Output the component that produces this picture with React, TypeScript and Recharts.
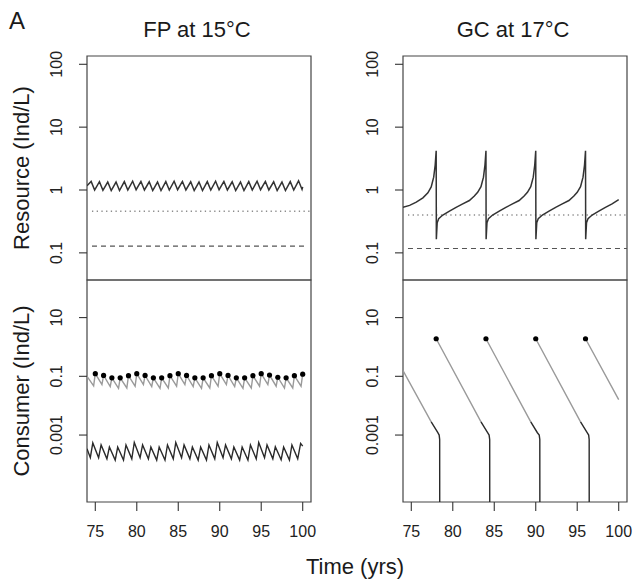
import React from 'react';
import { LineChart, Line, XAxis, YAxis, ReferenceArea } from 'recharts';

// ---------- axes ----------
const X_TICKS = [75, 80, 85, 90, 95, 100];
const X_DOMAIN = [74, 101];
const RES_TICKS = [0.1, 1, 10, 100];
const RES_DOMAIN = [0.037, 135.5];
const CON_TICKS = [0.001, 0.1, 10];
const CON_DOMAIN = [5.25e-6, 190.5];

// ---------- FP at 15°C : resource ----------
const FP_RES: number[][] = [
  [74.0, 1.17], [74.5, 1.37], [74.92, 1.0],
  [75.5, 1.36], [75.92, 0.99],
  [76.5, 1.34], [76.92, 0.98],
  [77.5, 1.34], [77.92, 0.98],
  [78.5, 1.36], [78.92, 1.0],
  [79.5, 1.38], [79.92, 1.01],
  [80.5, 1.37], [80.92, 1.0],
  [81.5, 1.35], [81.92, 0.98],
  [82.5, 1.34], [82.92, 0.98],
  [83.5, 1.36], [83.92, 1.0],
  [84.5, 1.38], [84.92, 1.01],
  [85.5, 1.37], [85.92, 1.0],
  [86.5, 1.35], [86.92, 0.98],
  [87.5, 1.34], [87.92, 0.98],
  [88.5, 1.36], [88.92, 1.0],
  [89.5, 1.38], [89.92, 1.01],
  [90.5, 1.37], [90.92, 1.0],
  [91.5, 1.35], [91.92, 0.98],
  [92.5, 1.34], [92.92, 0.98],
  [93.5, 1.36], [93.92, 1.0],
  [94.5, 1.38], [94.92, 1.01],
  [95.5, 1.37], [95.92, 1.0],
  [96.5, 1.35], [96.92, 0.98],
  [97.5, 1.34], [97.92, 0.98],
  [98.5, 1.36], [98.92, 1.0],
  [99.5, 1.40], [99.92, 1.02],
  [100.0, 1.12],
];
const FP_DOTTED: number[][] = [[74.6, 0.46], [101, 0.46]];
const FP_DASHED: number[][] = [[74.6, 0.128], [100.3, 0.128]];

// ---------- FP at 15°C : consumers ----------
const FP_JUV: number[][] = [
  [74.0, 0.100], [74.8, 0.047],
  [75.0, 0.123], [75.8, 0.052],
  [76.0, 0.107], [76.8, 0.045],
  [77.0, 0.089], [77.8, 0.039],
  [78.0, 0.089], [78.8, 0.040],
  [79.0, 0.105], [79.8, 0.046],
  [80.0, 0.123], [80.8, 0.052],
  [81.0, 0.107], [81.8, 0.045],
  [82.0, 0.089], [82.8, 0.039],
  [83.0, 0.089], [83.8, 0.040],
  [84.0, 0.105], [84.8, 0.046],
  [85.0, 0.123], [85.8, 0.052],
  [86.0, 0.107], [86.8, 0.045],
  [87.0, 0.089], [87.8, 0.039],
  [88.0, 0.089], [88.8, 0.040],
  [89.0, 0.105], [89.8, 0.046],
  [90.0, 0.123], [90.8, 0.052],
  [91.0, 0.107], [91.8, 0.045],
  [92.0, 0.089], [92.8, 0.039],
  [93.0, 0.089], [93.8, 0.040],
  [94.0, 0.105], [94.8, 0.046],
  [95.0, 0.123], [95.8, 0.052],
  [96.0, 0.110], [96.8, 0.046],
  [97.0, 0.093], [97.8, 0.040],
  [98.0, 0.089], [98.8, 0.040],
  [99.0, 0.105], [99.8, 0.046],
  [100.0, 0.118],
];
const FP_BIRTHS: number[][] = [
  [75, 0.123], [76, 0.107], [77, 0.089], [78, 0.089], [79, 0.105],
  [80, 0.123], [81, 0.107], [82, 0.089], [83, 0.089], [84, 0.105],
  [85, 0.123], [86, 0.107], [87, 0.089], [88, 0.089], [89, 0.105],
  [90, 0.123], [91, 0.107], [92, 0.089], [93, 0.089], [94, 0.105],
  [95, 0.123], [96, 0.110], [97, 0.093], [98, 0.089], [99, 0.105],
  [100, 0.118],
];
const FP_ADULT: number[][] = [
  [74.0, 3.4e-4], [74.4, 1.7e-4], [74.7, 5.4e-4],
  [75.4, 1.7e-4], [75.7, 4.6e-4],
  [76.4, 1.55e-4], [76.7, 3.9e-4],
  [77.4, 1.4e-4], [77.7, 3.9e-4],
  [78.4, 1.4e-4], [78.7, 4.6e-4],
  [79.4, 1.55e-4], [79.7, 5.6e-4],
  [80.4, 1.7e-4], [80.7, 4.6e-4],
  [81.4, 1.55e-4], [81.7, 3.9e-4],
  [82.4, 1.4e-4], [82.7, 3.9e-4],
  [83.4, 1.4e-4], [83.7, 4.6e-4],
  [84.4, 1.55e-4], [84.7, 5.6e-4],
  [85.4, 1.7e-4], [85.7, 4.6e-4],
  [86.4, 1.55e-4], [86.7, 3.9e-4],
  [87.4, 1.4e-4], [87.7, 3.9e-4],
  [88.4, 1.4e-4], [88.7, 4.6e-4],
  [89.4, 1.55e-4], [89.7, 5.6e-4],
  [90.4, 1.7e-4], [90.7, 4.6e-4],
  [91.4, 1.55e-4], [91.7, 3.9e-4],
  [92.4, 1.4e-4], [92.7, 3.9e-4],
  [93.4, 1.4e-4], [93.7, 4.6e-4],
  [94.4, 1.55e-4], [94.7, 5.6e-4],
  [95.4, 1.7e-4], [95.7, 4.6e-4],
  [96.4, 1.55e-4], [96.7, 4.0e-4],
  [97.4, 1.45e-4], [97.7, 3.9e-4],
  [98.4, 1.4e-4], [98.7, 4.6e-4],
  [99.4, 1.55e-4], [99.75, 5.2e-4],
  [100.0, 4.2e-4],
];

// ---------- GC at 17°C : resource ----------
const GC_RES: number[][] = [
  [74.0, 0.53], [74.8, 0.57], [75.6, 0.64], [76.4, 0.75], [77.0, 0.9], [77.4, 1.12], [77.7, 1.6], [77.88, 2.5], [78.0, 4.2],
  [78.02, 0.165], [78.12, 0.3], [78.3, 0.35], [78.8, 0.40], [79.6, 0.46], [80.4, 0.53], [81.2, 0.6], [82.0, 0.68], [82.6, 0.8], [83.0, 0.92], [83.4, 1.13], [83.7, 1.6], [83.88, 2.5], [84.0, 4.2],
  [84.02, 0.165], [84.12, 0.3], [84.3, 0.35], [84.8, 0.40], [85.6, 0.46], [86.4, 0.53], [87.2, 0.6], [88.0, 0.68], [88.6, 0.8], [89.0, 0.92], [89.4, 1.13], [89.7, 1.6], [89.88, 2.5], [90.0, 4.2],
  [90.02, 0.165], [90.12, 0.3], [90.3, 0.35], [90.8, 0.40], [91.6, 0.46], [92.4, 0.53], [93.2, 0.6], [94.0, 0.68], [94.6, 0.8], [95.0, 0.92], [95.4, 1.13], [95.7, 1.6], [95.88, 2.5], [96.0, 4.2],
  [96.02, 0.165], [96.12, 0.3], [96.3, 0.35], [96.8, 0.40], [97.6, 0.46], [98.4, 0.53], [99.2, 0.6], [100.0, 0.7],
];
const GC_DOTTED: number[][] = [[74.6, 0.40], [101, 0.40]];
const GC_DASHED: number[][] = [[74.6, 0.117], [101, 0.117]];

// ---------- GC at 17°C : consumers ----------
const GC_JUV: (number | null)[][] = [
  [74.0, 0.158], [77.4, 0.0028], [77.41, null],
  [78.0, 1.9], [83.4, 0.0028], [83.41, null],
  [84.0, 1.9], [89.4, 0.0028], [89.41, null],
  [90.0, 1.9], [95.4, 0.0028], [95.41, null],
  [96.0, 1.9], [100.0, 0.016],
];
const GC_ADULT: (number | null)[][] = [
  [77.4, 0.0028], [78.2, 0.0012], [78.36, 0.001], [78.42, 0.0007], [78.43, 1e-7], [78.44, null],
  [83.4, 0.0028], [84.2, 0.0012], [84.38, 0.001], [84.45, 0.0007], [84.46, 1e-7], [84.47, null],
  [89.4, 0.0028], [90.2, 0.0012], [90.42, 0.001], [90.49, 0.0007], [90.5, 1e-7], [90.51, null],
  [95.4, 0.0028], [96.2, 0.0012], [96.38, 0.001], [96.44, 0.0007], [96.45, 1e-7],
];
const GC_BIRTHS: number[][] = [[78.0, 1.9], [84.0, 1.9], [90.0, 1.9], [96.0, 1.9]];

// ---------- helpers ----------
const rows = (pairs: (number | null)[][]) => pairs.map(([t, v]) => ({ t, v }));

const FONT = '"Liberation Sans", Arial, Helvetica, sans-serif';
const INK = '#333';
const GRAY = '#9a9a9a';

const yTick = (props: any) => {
  const { x, y, payload } = props;
  const bx = x - 17;
  return (
    <text x={bx} y={y} transform={`rotate(-90 ${bx} ${y})`} textAnchor="middle" fontSize={16} fill="#222" fontFamily={FONT}>
      {String(payload.value)}
    </text>
  );
};
const xTick = (props: any) => {
  const { x, y, payload } = props;
  return (
    <text x={x} y={y + 26} textAnchor="middle" fontSize={16} fill="#222" fontFamily={FONT}>
      {String(payload.value)}
    </text>
  );
};

const lineBase = { dataKey: 'v', dot: false, activeDot: false, isAnimationActive: false, connectNulls: false, type: 'linear' as const };

function ResourcePanel({ left, res, dotted, dashed, dottedStart }: any) {
  return (
    <div style={{ position: 'absolute', left, top: 0 }}>
      <LineChart width={320} height={290} margin={{ top: 56, right: 9, bottom: 10, left: 0 }}>
        <XAxis type="number" dataKey="t" domain={X_DOMAIN} hide allowDataOverflow />
        <YAxis type="number" scale="log" domain={RES_DOMAIN} ticks={RES_TICKS} interval={0} allowDataOverflow width={87}
          axisLine={false} tickLine={{ stroke: INK, strokeWidth: 1.1 }} tickSize={8} tickMargin={0} tick={yTick} />
        <ReferenceArea x1={X_DOMAIN[0]} x2={X_DOMAIN[1]} y1={RES_DOMAIN[0]} y2={RES_DOMAIN[1]} fill="none" fillOpacity={0}
          stroke="#444" strokeWidth={1.2} ifOverflow="visible" />
        <Line {...lineBase} data={rows(dotted)} stroke="#8c8c8c" strokeWidth={1.4} strokeDasharray="1.3 3.4" />
        <Line {...lineBase} data={rows(dashed)} stroke="#555" strokeWidth={1.1} strokeDasharray="5 4" />
        <Line {...lineBase} data={rows(res)} stroke={INK} strokeWidth={1.5} />
      </LineChart>
    </div>
  );
}

function ConsumerPanel({ left, juv, adult, births, dotR }: any) {
  return (
    <div style={{ position: 'absolute', left, top: 270 }}>
      <LineChart width={320} height={300} margin={{ top: 10, right: 9, bottom: 38, left: 0 }}>
        <XAxis type="number" dataKey="t" domain={X_DOMAIN} ticks={X_TICKS} interval={0} allowDataOverflow height={30}
          axisLine={false} tickLine={{ stroke: INK, strokeWidth: 1.1 }} tickSize={9} tickMargin={0} tick={xTick} />
        <YAxis type="number" scale="log" domain={CON_DOMAIN} ticks={CON_TICKS} interval={0} allowDataOverflow width={87}
          axisLine={false} tickLine={{ stroke: INK, strokeWidth: 1.1 }} tickSize={8} tickMargin={0} tick={yTick} />
        <ReferenceArea x1={X_DOMAIN[0]} x2={X_DOMAIN[1]} y1={CON_DOMAIN[0]} y2={CON_DOMAIN[1]} fill="none" fillOpacity={0}
          stroke="#444" strokeWidth={1.2} ifOverflow="visible" />
        <Line {...lineBase} data={rows(juv)} stroke={GRAY} strokeWidth={1.4} />
        <Line {...lineBase} data={rows(adult)} stroke="#2a2a2a" strokeWidth={1.4} />
        <Line {...lineBase} data={rows(births)} stroke="none" strokeWidth={0}
          dot={{ r: dotR, fill: '#000', stroke: 'none', strokeWidth: 0 }} />
      </LineChart>
    </div>
  );
}

export default function App() {
  return (
    <div style={{ position: 'absolute', left: 0, top: 0, width: 633, height: 582, background: '#fff', fontFamily: FONT }}>
      <ResourcePanel left={0} res={FP_RES} dotted={FP_DOTTED} dashed={FP_DASHED} />
      <ResourcePanel left={316} res={GC_RES} dotted={GC_DOTTED} dashed={GC_DASHED} />
      <ConsumerPanel left={0} juv={FP_JUV} adult={FP_ADULT} births={FP_BIRTHS} dotR={2.6} />
      <ConsumerPanel left={316} juv={GC_JUV} adult={GC_ADULT} births={GC_BIRTHS} dotR={2.6} />
      <svg width={633} height={582} style={{ position: 'absolute', left: 0, top: 0, pointerEvents: 'none' }}>
        <g fontFamily={FONT} fill="#1a1a1a">
          <text x={9} y={29} fontSize={24}>A</text>
          <text x={197} y={37} fontSize={22} textAnchor="middle">FP at 15°C</text>
          <text x={513} y={37} fontSize={22} textAnchor="middle">GC at 17°C</text>
          <text x={29} y={168} fontSize={22} textAnchor="middle" transform="rotate(-90 29 168)">Resource (Ind/L)</text>
          <text x={29} y={391} fontSize={22} textAnchor="middle" transform="rotate(-90 29 391)">Consumer (Ind/L)</text>
          <text x={355} y={574} fontSize={22} textAnchor="middle">Time (yrs)</text>
        </g>
      </svg>
    </div>
  );
}
